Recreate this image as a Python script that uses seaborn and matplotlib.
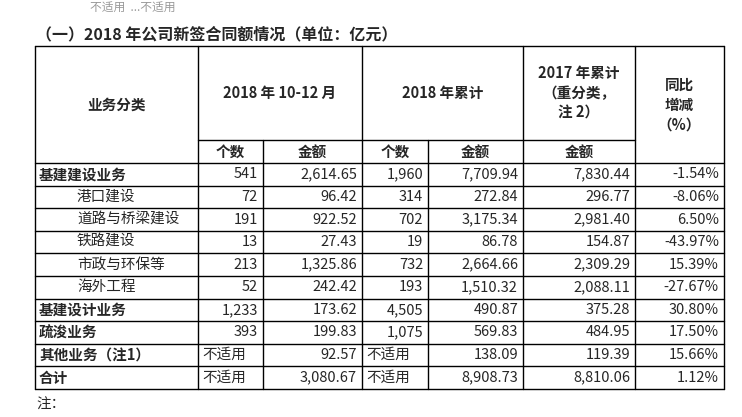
import matplotlib.pyplot as plt
import seaborn as sns

sns.set_style("white")
plt.rcParams['font.family'] = ['Noto Sans CJK SC', 'DejaVu Sans']

categories = ["基建建设业务", "港口建设", "道路与桥梁建设", "铁路建设", "市政与环保等", "海外工程",
              "基建设计业务", "疏浚业务", "其他业务（注1）", "合计"]
bold_rows = [True, False, False, False, False, False, True, True, True, True]
q4_count = ["541", "72", "191", "13", "213", "52", "1,233", "393", "不适用", "不适用"]
q4_amount = ["2,614.65", "96.42", "922.52", "27.43", "1,325.86", "242.42", "173.62", "199.83", "92.57", "3,080.67"]
y18_count = ["1,960", "314", "702", "19", "732", "193", "4,505", "1,075", "不适用", "不适用"]
y18_amount = ["7,709.94", "272.84", "3,175.34", "86.78", "2,664.66", "1,510.32", "490.87", "569.83", "138.09", "8,908.73"]
y17_amount = ["7,830.44", "296.77", "2,981.40", "154.87", "2,309.29", "2,088.11", "375.28", "484.95", "119.39", "8,810.06"]
yoy = ["-1.54%", "-8.06%", "6.50%", "-43.97%", "15.39%", "-27.67%", "30.80%", "17.50%", "15.66%", "1.12%"]

W, H = 742, 417
fig = plt.figure(figsize=(W / 100, H / 100), dpi=100)
ax = fig.add_axes([0, 0, 1, 1])
ax.set_xlim(0, W)
ax.set_ylim(H, 0)
ax.axis("off")

xs = [35, 198, 263, 362, 428, 523, 635, 724]
top, sub, body = 46, 140, 163
rh = 22.6
bottom = body + rh * len(categories)

ax.text(36, 34, "（一）2018 年公司新签合同额情况（单位：亿元）", fontsize=11.5, fontweight="bold", va="center")
ax.text(36, 405, "注：", fontsize=10.5, va="center")
ax.text(90, 7, "不适用  ...不适用", fontsize=8.5, va="center", color="#999999")

lw = 1.0
for y in [top, bottom]:
    ax.plot([xs[0], xs[-1]], [y, y], color="black", lw=lw)
ax.plot([xs[1], xs[6]], [sub, sub], color="black", lw=lw)
for i in range(len(categories)):
    y = body + rh * i
    ax.plot([xs[0], xs[-1]], [y, y], color="black", lw=lw)
for i, x in enumerate(xs):
    y0 = sub if i in (2, 4) else top
    ax.plot([x, x], [y0, bottom], color="black", lw=lw)

fs = 10.5
ax.text((xs[0] + xs[1]) / 2, (top + body) / 2, "业务分类", fontsize=fs, fontweight="bold", ha="center", va="center")
ax.text((xs[1] + xs[3]) / 2, (top + sub) / 2, "2018 年 10-12 月", fontsize=fs, fontweight="bold", ha="center", va="center")
ax.text((xs[3] + xs[5]) / 2, (top + sub) / 2, "2018 年累计", fontsize=fs, fontweight="bold", ha="center", va="center")
ax.text((xs[5] + xs[6]) / 2, (top + sub) / 2, "2017 年累计\n（重分类，\n注 2）", fontsize=fs, fontweight="bold",
        ha="center", va="center", linespacing=1.3)
ax.text((xs[6] + xs[7]) / 2, (top + body) / 2, "同比\n增减\n（%）", fontsize=fs, fontweight="bold",
        ha="center", va="center", linespacing=1.3)
for j, lab in enumerate(["个数", "金额", "个数", "金额", "金额"]):
    ax.text((xs[j + 1] + xs[j + 2]) / 2, (sub + body) / 2, lab, fontsize=fs, fontweight="bold", ha="center", va="center")

cols = [q4_count, q4_amount, y18_count, y18_amount, y17_amount, yoy]
for i, cat in enumerate(categories):
    yc = body + rh * (i + 0.5)
    if bold_rows[i]:
        ax.text(xs[0] + 4, yc, cat, fontsize=fs, fontweight="bold", va="center")
    else:
        ax.text(xs[0] + 42, yc, cat, fontsize=fs, va="center")
    for j, col in enumerate(cols):
        v = col[i]
        if v == "不适用":
            ax.text(xs[j + 1] + 4, yc, v, fontsize=fs, va="center")
        else:
            ax.text(xs[j + 2] - 5, yc, v, fontsize=fs, ha="right", va="center")

fig.savefig("out.png", dpi=100)
